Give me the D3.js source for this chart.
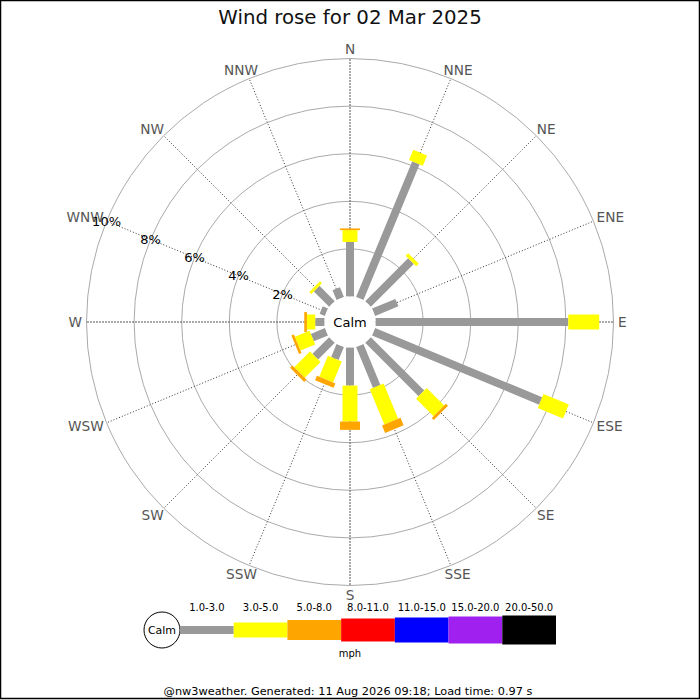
<!DOCTYPE html>
<html>
<head>
<meta charset="utf-8">
<script src="https://cdn.jsdelivr.net/npm/d3@7"></script>
<style>
  body { margin: 0; background: #fff; }
  svg { display: block; font-family: "DejaVu Sans", sans-serif; }
</style>
</head>
<body>
<div id="rose"></div>
<script>
// chart data
var directions = ["N","NNE","NE","ENE","E","ESE","SE","SSE","S","SSW","SW","WSW","W","WNW","NW","NNW"];
var speedBins = ["1.0-3.0","3.0-5.0","5.0-8.0","8.0-11.0","11.0-15.0","15.0-20.0","20.0-50.0"];
var binColors = ["#999999","#ffff00","#ffa500","#ff0000","#0000ff","#a020f0","#000000"];
// percentage of time per direction, per speed bin
var pct1to3 = [2.29, 6.17, 2.55, 1.06, 8.1, 7.6, 3.17, 1.86, 1.6, 0.59, 0.99, 0.64, 0.39, 0.24, 0.91, 0.44];
var pct3to5 = [0.5, 0.46, 0.15, 0, 1.3, 1.15, 1.04, 1.6, 1.51, 0.96, 0.94, 0.67, 0.35, 0, 0.12, 0];
var pct5to8 = [0.07, 0, 0, 0, 0, 0, 0.12, 0.34, 0.35, 0.2, 0.14, 0.11, 0.11, 0, 0, 0];
var ringTicks = [2, 4, 6, 8, 10];
var ringLabels = ["2%","4%","6%","8%","10%"];

var w = 700, h = 700;
var cx = 350, cy = 322;
var calmR = 25.5;

var svg = d3.select("#rose")
  .append("svg")
  .attr("width", w)
  .attr("height", h);

// border
svg.append("rect")
  .attr("x", 0.5).attr("y", 0.5)
  .attr("width", w - 1).attr("height", h - 2)
  .attr("fill", "none")
  .attr("stroke", "#000")
  .attr("stroke-width", 1.5);

// title
svg.append("text")
  .attr("x", w / 2).attr("y", 24)
  .attr("text-anchor", "middle")
  .style("font-size", "19.8px")
  .attr("fill", "#111")
  .text("Wind rose for 02 Mar 2025");

var r = d3.scaleLinear().domain([0, 10]).range([calmR, 263.5]);
var angle = d3.scalePoint().domain(directions).range([0, 360 - 22.5]);
var barWidth = d3.scaleOrdinal().domain(speedBins).range([8, 15, 20, 23, 25, 27, 29]);
var color = d3.scaleOrdinal().domain(speedBins).range(binColors);
function rad(d) { return angle(d) * Math.PI / 180; }

var g = svg.append("g").attr("transform", "translate(" + cx + "," + cy + ")");

// rings
g.selectAll(".ring")
  .data(ringTicks)
  .enter()
  .append("circle")
    .attr("r", function(d) { return r(d); })
    .attr("fill", "none")
    .attr("stroke", "#aaa")
    .attr("stroke-width", 1);

// spokes
g.selectAll(".spoke")
  .data(directions)
  .enter()
  .append("line")
    .attr("x1", 0).attr("y1", 0)
    .attr("x2", function(d) { return r(10) * Math.sin(rad(d)); })
    .attr("y2", function(d) { return -r(10) * Math.cos(rad(d)); })
    .attr("stroke", function(d, i) { return i % 4 == 0 ? "#555" : "#333"; })
    .attr("stroke-width", 1)
    .attr("stroke-dasharray", function(d, i) { return i % 4 == 0 ? "2,1" : "1,2"; });

// direction labels, pushed outward by half their size
var labR = 268;
g.selectAll(".dirlabel")
  .data(directions)
  .enter()
  .append("text")
    .attr("text-anchor", "middle")
    .attr("dy", "0.35em")
    .style("font-size", "13.7px")
    .attr("fill", "#555")
    .text(function(d) { return d; })
    .each(function(d) {
      var hw = this.getComputedTextLength() / 2, hh = 5;
      d3.select(this)
        .attr("x", (labR + hw) * Math.sin(rad(d)))
        .attr("y", -(labR + hh) * Math.cos(rad(d)));
    });

// stacked bars
var series = [pct1to3, pct3to5, pct5to8];
var segs = [];
directions.forEach(function(dir, i) {
  var base = 0;
  series.forEach(function(s, k) {
    if (s[i] > 0) {
      segs.push({dir: dir, bin: speedBins[k], y0: base, y1: base + s[i]});
    }
    base += s[i];
  });
});

g.selectAll(".seg")
  .data(segs)
  .enter()
  .append("rect")
    .attr("transform", function(d) { return "rotate(" + angle(d.dir) + ")"; })
    .attr("x", function(d) { return -barWidth(d.bin) / 2; })
    .attr("y", function(d) { return -r(d.y1); })
    .attr("width", function(d) { return barWidth(d.bin); })
    .attr("height", function(d) { return r(d.y1) - r(d.y0); })
    .attr("fill", function(d) { return color(d.bin); });

// percent labels along WNW
var labAng = rad("WNW");
g.selectAll(".pctlabel")
  .data(ringTicks)
  .enter()
  .append("text")
    .attr("x", function(d) { return r(d) * Math.sin(labAng); })
    .attr("y", function(d) { return -r(d) * Math.cos(labAng); })
    .attr("text-anchor", "middle")
    .attr("dy", "0.35em")
    .style("font-size", "13px")
    .attr("fill", "#000")
    .text(function(d, i) { return ringLabels[i]; });

// calm circle
g.append("circle").attr("r", calmR).attr("fill", "#fff");
g.append("text")
  .attr("text-anchor", "middle")
  .attr("dy", "0.35em")
  .style("font-size", "13px")
  .text("Calm");

// legend
var lx = d3.scaleBand().domain(speedBins).range([180, 556]);
var ly = 630;
var leg = svg.append("g");
leg.append("circle")
  .attr("cx", 162).attr("cy", ly).attr("r", 18)
  .attr("fill", "#fff").attr("stroke", "#000");
leg.append("text")
  .attr("x", 162).attr("y", ly)
  .attr("dy", "0.35em")
  .attr("text-anchor", "middle")
  .style("font-size", "11px")
  .text("Calm");
leg.selectAll(".lbar")
  .data(speedBins)
  .enter()
  .append("rect")
    .attr("x", function(d) { return lx(d); })
    .attr("y", function(d) { return ly - barWidth(d) / 2; })
    .attr("width", lx.bandwidth())
    .attr("height", function(d) { return barWidth(d); })
    .attr("fill", function(d) { return color(d); });
leg.selectAll(".llab")
  .data(speedBins)
  .enter()
  .append("text")
    .attr("x", function(d) { return lx(d) + lx.bandwidth() / 2; })
    .attr("y", 611)
    .attr("text-anchor", "middle")
    .style("font-size", "10px")
    .text(function(d) { return d; });
leg.append("text")
  .attr("x", 350).attr("y", 657)
  .attr("text-anchor", "middle")
  .style("font-size", "10px")
  .text("mph");

// footer
svg.append("text")
  .attr("x", 348).attr("y", 695)
  .attr("text-anchor", "middle")
  .style("font-size", "11.3px")
  .text("@nw3weather. Generated: 11 Aug 2026 09:18; Load time: 0.97 s");
</script>
</body>
</html>
